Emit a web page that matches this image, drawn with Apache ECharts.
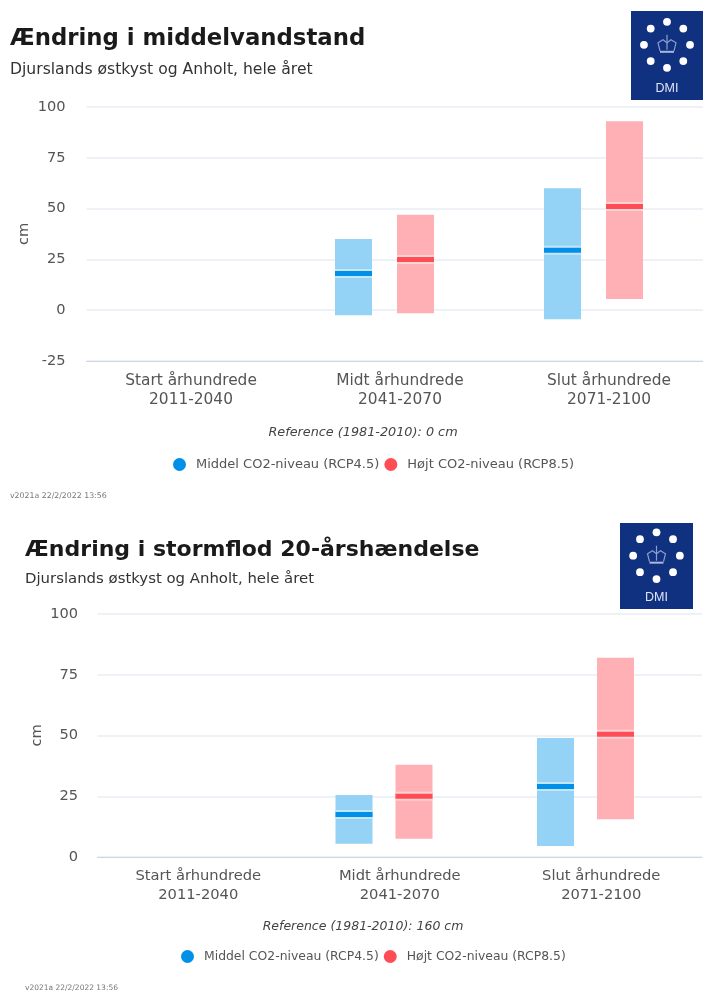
<!DOCTYPE html>
<html><head><meta charset="utf-8">
<style>html,body{margin:0;padding:0;background:#fff;overflow:hidden;width:703px;height:992px}#c{width:730px;height:992px}</style>
<script src="https://cdn.jsdelivr.net/npm/echarts@6/dist/echarts.min.js"></script>
</head><body><div id="c"></div>
<script>
const categories = ['Start århundrede\n2011-2040', 'Midt århundrede\n2041-2070', 'Slut århundrede\n2071-2100'];
const nameMid = 'Middel CO2-niveau (RCP4.5)';
const nameHigh = 'Højt CO2-niveau (RCP8.5)';

// [category index, low, high, mean]
const seaMid  = [[1, -2.5, 35, 18], [2, -4.5, 60, 29.5]];
const seaHigh = [[1, -1.5, 47, 25], [2, 5.5, 93, 51]];
const stormMid  = [[1, 5.5, 25.5, 17.5], [2, 4.5, 49, 29]];
const stormHigh = [[1, 7.5, 38, 25], [2, 15.5, 82, 50.5]];

const blue = '#0090e8', blueLight = '#94d2f6';
const red = '#ff4d55', redLight = '#ffb0b4';
const font = '"DejaVu Sans", Verdana, sans-serif';

function rangeRender(light, dark, halo, dx) {
  return function (params, api) {
    const c = api.value(0);
    const lo = api.coord([c, api.value(1)]);
    const hi = api.coord([c, api.value(2)]);
    const me = api.coord([c, api.value(3)]);
    const w = 37, x = lo[0] + dx - w / 2;
    return { type: 'group', children: [
      { type: 'rect', shape: { x, y: hi[1], width: w, height: lo[1] - hi[1] }, style: { fill: light } },
      { type: 'rect', shape: { x, y: me[1] - 4.5, width: w, height: 9 }, style: { fill: halo } },
      { type: 'rect', shape: { x, y: me[1] - 2.5, width: w, height: 5 }, style: { fill: dark } }
    ] };
  };
}
function rangeSeries(name, data, idx, light, dark, halo, dx) {
  return { type: 'custom', name, data, xAxisIndex: idx, yAxisIndex: idx,
    encode: { x: 0, y: [1, 2, 3] }, clip: false, silent: true,
    itemStyle: { color: dark }, renderItem: rangeRender(light, dark, halo, dx) };
}
function titleSet(main, sub, x, y, mainSize, subSize, subY) {
  return [
    { text: main, left: x, top: y, padding: 0, textStyle: { fontFamily: font, fontSize: mainSize, fontWeight: 'bold', color: '#1a1a1a' } },
    { text: sub, left: x, top: subY, padding: 0, textStyle: { fontFamily: font, fontSize: subSize, fontWeight: 'normal', color: '#333' } }
  ];
}
function xAxis(idx, size) {
  return { type: 'category', gridIndex: idx, data: categories,
    axisLine: { show: true, onZero: false, lineStyle: { color: '#ccd6eb', width: 1.2 } }, axisTick: { show: false }, splitLine: { show: false },
    axisLabel: { fontFamily: font, fontSize: size, color: '#555', lineHeight: 19, margin: 10, interval: 0 } };
}
function yAxis(idx, min, max, size, gap, margin) {
  return { type: 'value', gridIndex: idx, min, max, interval: 25, name: 'cm', nameLocation: 'middle',
    nameGap: gap, nameMoveOverlap: false, nameTextStyle: { fontFamily: font, fontSize: size, color: '#555' },
    axisLine: { show: false }, axisTick: { show: false },
    axisLabel: { fontFamily: font, fontSize: size, color: '#555', margin },
    splitLine: { lineStyle: { color: '#e9edf2', width: 1.5 } } };
}
function legend(x, y, size) {
  return { left: x, top: y, data: [nameMid, nameHigh], icon: 'circle', itemWidth: 13, itemHeight: 13, itemGap: 5, selectedMode: false,
    textStyle: { fontFamily: font, fontSize: size, color: '#555', padding: [0, 0, 0, 5] } };
}
function logo(x, y, w, h) {
  const cx = x + w / 2, cy = y + h * 0.38, r = w * 0.32;
  const kids = [{ type: 'rect', shape: { x, y, width: w, height: h }, style: { fill: '#103080' } }];
  for (let a = 0; a < 8; a++) {
    const t = a * Math.PI / 4;
    kids.push({ type: 'circle', shape: { cx: cx + r * Math.cos(t), cy: cy + r * Math.sin(t), r: 3.9 }, style: { fill: '#fff' } });
  }
  kids.push({ type: 'polyline', shape: { points: [[cx-7,cy+6],[cx-9,cy-2],[cx-4,cy-5],[cx,cy-2],[cx+4,cy-5],[cx+9,cy-2],[cx+7,cy+6]] }, style: { stroke: '#8d9fcc', lineWidth: 1.2, fill: 'none' } });
  kids.push({ type: 'line', shape: { x1: cx-7, y1: cy+7, x2: cx+7, y2: cy+7 }, style: { stroke: '#a9b8dc', lineWidth: 2 } });
  kids.push({ type: 'line', shape: { x1: cx, y1: cy-10, x2: cx, y2: cy+5 }, style: { stroke: '#8d9fcc', lineWidth: 1.2 } });
  kids.push({ type: 'text', style: { x: cx, y: y + h - 11, text: 'DMI', align: 'center', verticalAlign: 'middle', fill: '#dfe6f5', font: '12.5px "Liberation Sans", Arial, sans-serif' } });
  return { type: 'group', children: kids };
}
const note = (text, cx, y, size) => ({ type: 'text', style: { x: cx, y, text, align: 'center', verticalAlign: 'middle', fill: '#444', font: 'italic ' + size + 'px ' + font } });
const stamp = (text, x, y, size) => ({ type: 'text', style: { x, y, text, verticalAlign: 'middle', fill: '#777', font: size + 'px ' + font } });

const option = {
  animation: false,
  backgroundColor: '#fff',
  title: [...titleSet('Ændring i middelvandstand', 'Djurslands østkyst og Anholt, hele året', 10, 28, 22.8, 15.6, 62),
          ...titleSet('Ændring i stormflod 20-årshændelse', 'Djurslands østkyst og Anholt, hele året', 25, 539, 22, 14.9, 572)],
  grid: [
    { left: 86.5, top: 107, width: 627, height: 254 },
    { left: 97.5, top: 614, width: 604.5, height: 243 }
  ],
  xAxis: [xAxis(0, 15.4), xAxis(1, 14.7)],
  yAxis: [yAxis(0, -25, 100, 14.6, 55, 21), yAxis(1, 0, 100, 14.6, 53, 19.5)],
  legend: [legend(168, 453, 13), legend(176, 945, 12.4)],
  series: [
    rangeSeries(nameMid, seaMid, 0, blueLight, blue, '#c5e6fa', -46.5),
    rangeSeries(nameHigh, seaHigh, 0, redLight, red, '#ffd2d4', 15.5),
    rangeSeries(nameMid, stormMid, 1, blueLight, blue, '#c5e6fa', -45.75),
    rangeSeries(nameHigh, stormHigh, 1, redLight, red, '#ffd2d4', 14.25)
  ],
  graphic: { elements: [
    logo(631, 11, 72, 89), logo(620, 523, 73, 86),
    note('Reference (1981-2010): 0 cm', 363, 433, 12.8),
    note('Reference (1981-2010): 160 cm', 363, 927, 12.5),
    stamp('v2021a 22/2/2022 13:56', 10, 496, 7.8),
    stamp('v2021a 22/2/2022 13:56', 25, 988, 7.5)
  ] }
};
const chart = echarts.init(document.getElementById('c'), null, { renderer: 'canvas' });
chart.setOption(option);
</script></body></html>
